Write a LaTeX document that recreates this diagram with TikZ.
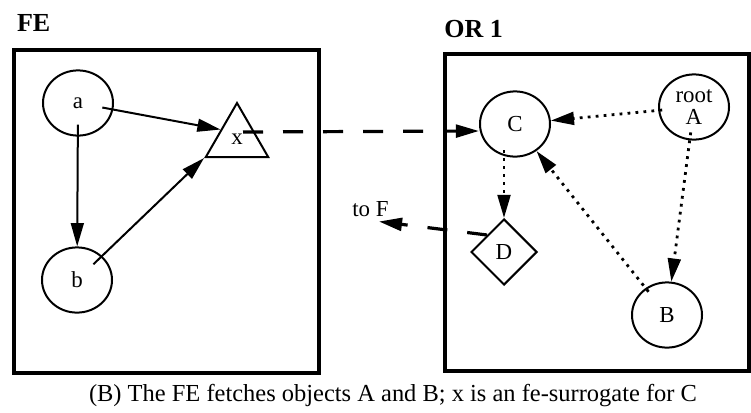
\documentclass[tikz,border=0pt]{standalone}
\usepackage{fontspec}
\setmainfont{Liberation Serif}
\usetikzlibrary{arrows.meta,shapes.geometric}

\begin{document}
\begin{tikzpicture}[
        font=\fontsize{16.3}{15.5}\selectfont,
        obj/.style={
            ellipse, draw=black, line width=0.05cm,
            minimum width=1.75cm, minimum height=1.63cm,
            inner sep=0pt, text centered, align=center
        },
        surrogate/.style={
            regular polygon, regular polygon sides=3, draw=black,
            line width=0.05cm, minimum size=1.8cm, inner sep=0pt
        },
        remote/.style={
            diamond, draw=black, line width=0.05cm,
            minimum width=1.65cm, minimum height=1.65cm, inner sep=0pt
        },
        region/.style={draw=black, line width=0.1cm},
        title/.style={font=\fontsize{18.5}{18.5}\selectfont\bfseries,
            anchor=base west, inner sep=0pt},
        arrow/.style={-{Triangle[length=0.58cm,width=0.32cm]}, line width=0.05cm},
        dotarrow/.style={arrow, line width=0.07cm,
            dash pattern=on 0.07cm off 0.13cm},
        dasharrow/.style={arrow, line width=0.08cm,
            dash pattern=on 0.5cm off 0.5cm}
    ]

        \useasboundingbox (0,0) rectangle (18.775,-10.3);

        % Regiones
        \draw[region] (0.35,-1.25) rectangle (7.975,-9.325);
        \draw[region] (11.125,-1.35) rectangle (18.725,-9.275);
        \node[title] (fe) at (0.42,-0.79) {FE};
        \node[title] (or) at (11.1,-0.93) {OR 1};

        % Objetos del FE
        \node[obj] (a) at (1.95,-2.575) {a};
        \node[obj] (b) at (1.925,-7.0) {b};
        \node[surrogate] (x) at (5.925,-3.475) {x};

        % Objetos del OR
        \node[obj] (C) at (12.875,-3.1) {C};
        \node[obj] (A) at (17.35,-2.675) {root\\A};
        \node[obj] (B) at (16.675,-7.875) {B};
        \node[remote] (D) at (12.6,-6.3) {D};
        \node[anchor=base west, inner sep=0pt] (toF) at (8.8,-5.4) {to F};

        % Referencias
        \draw[arrow, shorten <=-0.28cm] (a) -- (x.side 1);
        \draw[arrow, shorten <=-0.3cm] (a) -- (b);
        \draw[arrow, shorten <=-0.3cm] (b) -- (x.corner 2);

        \draw[dasharrow]
            ([xshift=0.15cm,yshift=0.175cm]x.center) -- ([yshift=-0.175cm]C.west);
        \draw[dasharrow]
            (D.north west) -- ([xshift=-0.25cm,yshift=-0.125cm]toF.south east);

        \draw[dotarrow, shorten <=-0.1cm] (A) -- (C);
        \draw[dotarrow, shorten <=-0.18cm] (C.south -| D.north) -- (D.north);
        \draw[dotarrow, shorten <=-0.12cm] (B) -- (C);
        \draw[dotarrow, shorten <=-0.2cm] (A) -- (B);

        % Pie
        \node[font=\fontsize{17.4}{17.4}\selectfont, anchor=base, inner sep=0pt]
            (caption) at (9.825,-10.025)
            {(B) The FE fetches objects A and B; x is an fe-surrogate for C};

    \end{tikzpicture}
\end{document}
